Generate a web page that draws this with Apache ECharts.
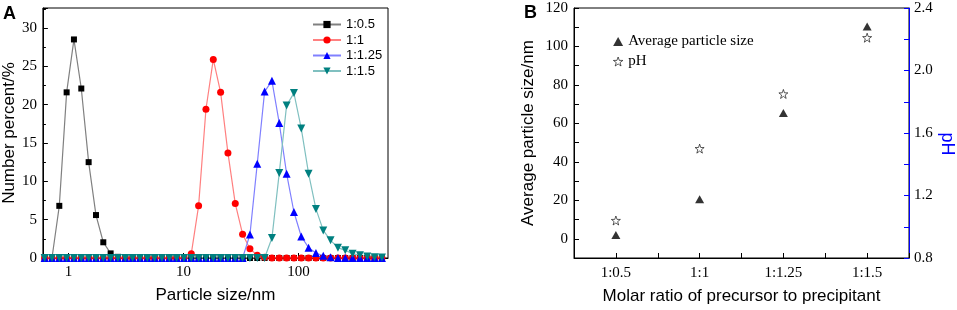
<!DOCTYPE html>
<html><head><meta charset="utf-8">
<script src="https://cdn.jsdelivr.net/npm/echarts@6/dist/echarts.min.js"></script>
<style>html,body{margin:0;padding:0;background:#fff}#c{width:957px;height:310px}</style>
</head><body><div id="c"></div>
<script>
// Panel A: particle size bins (nm) and number percent per series
const sizes = [0.6213,0.7195,0.8332,0.9649,1.117,1.294,1.499,1.736,2.010,2.328,2.696,3.122,3.615,4.187,4.849,5.615,6.503,7.531,8.721,10.10,11.70,13.54,15.69,18.17,21.04,24.36,28.21,32.67,37.84,43.82,50.75,58.77,68.06,78.82,91.28,105.7,122.4,141.8,164.2,190.1,220.2,255.0,295.3,342.0,396.1,458.7,531.2];
const s05  = [0,0,6.8,21.6,28.5,22.1,12.5,5.6,2.05,0.6,0.15,0,0,0,0,0,0,0,0,0,0,0,0,0,0,0,0,0,0,0,0,0,0,0,0,0,0,0,0,0,0,0,0,0,0,0,0];
const s1   = [0,0,0,0,0,0,0,0,0,0,0,0,0,0,0,0,0,0,0,0,0.57,6.8,19.4,25.9,21.6,13.7,7.1,3.1,1.2,0.35,0.1,0,0,0,0,0,0,0,0,0,0,0,0,0,0,0,0];
const s125 = [0,0,0,0,0,0,0,0,0,0,0,0,0,0,0,0,0,0,0,0,0,0,0,0,0,0,0,0,3.05,12.3,21.7,23.1,17.6,11.0,6.0,2.8,1.35,0.65,0.3,0.1,0,0,0,0,0,0,0];
const s15  = [0,0,0,0,0,0,0,0,0,0,0,0,0,0,0,0,0,0,0,0,0,0,0,0,0,0,0,0,0,0,0,2.6,11.1,19.9,21.5,16.9,11.0,6.4,3.6,2.3,1.35,1.0,0.57,0.35,0.2,0.1,0.05];
const seriesNamesA = ['1:0.5','1:1','1:1.25','1:1.5'];
const xTicksA = [1,10,100];

// Panel B
const ratios = ['1:0.5','1:1','1:1.25','1:1.5'];
const avgSize = [2,20.5,65.4,110.4];
const pH = [1.04,1.50,1.85,2.21];

const SANS = '"Liberation Sans", Arial, sans-serif';
const SERIF = '"Liberation Serif", "Times New Roman", serif';
const star = 'path://M0,-10L2.35,-3.24L9.51,-3.09L3.8,1.24L5.88,8.09L0,4L-5.88,8.09L-3.8,1.24L-9.51,-3.09L-2.35,-3.24Z';

const pairs = v => sizes.map((s,i)=>[s, v[i]]);
const lineCols = ['#808080','#ff8080','#8080ff','#80c0c0'];
const symCols = ['#000000','#ff0000','#0000ff','#008080'];
const symbols = ['rect','circle','triangle','path://M0,0L10,0L5,9Z'];
const symSizes = [6,7,8,8];
const valsA = [s05,s1,s125,s15];
const starStyle = {color:'#fff', borderColor:'#000', borderWidth:0.8};

const chart = echarts.init(document.getElementById('c'));
const axisLbl = {fontFamily: SERIF, fontSize: 15, color:'#000'};
chart.setOption({
  animation:false,
  graphic:[
    {type:'text', left:3, top:5, style:{text:'A', font:'bold 18px '+SANS, fill:'#000'}},
    {type:'text', left:524, top:4, style:{text:'B', font:'bold 18px '+SANS, fill:'#000'}}
  ],
  grid:[
    {left:42, top:8, width:346, height:250, show:true, borderColor:'#000', borderWidth:1, backgroundColor:'transparent'},
    {left:574, top:8, width:335, height:251, show:true, borderColor:'#000', borderWidth:1, backgroundColor:'transparent'}
  ],
  legend:[
    {data:seriesNamesA, orient:'vertical', left:312, top:18, padding:0, itemWidth:28, itemHeight:9, itemGap:2.5,
     textStyle:{fontFamily:SANS, fontSize:13, lineHeight:13, color:'#000'}},
    {data:[{name:'Average particle size', icon:'triangle'},{name:'pH', icon:star, itemStyle:starStyle}], orient:'vertical', left:613, top:34, padding:0, itemWidth:10, itemHeight:9, itemGap:5,
     textStyle:{fontFamily:SERIF, fontSize:15, lineHeight:15, color:'#000'}}
  ],
  xAxis:[
    {gridIndex:0, type:'log', logBase:10, min:0.6, max:600,
     name:'Particle size/nm', nameLocation:'middle', nameGap:29, nameTextStyle:{fontFamily:SANS, fontSize:17, color:'#000'},
     axisLine:{lineStyle:{color:'#000'}}, axisTick:{inside:true, length:5, lineStyle:{color:'#000'}},
     splitLine:{show:false},
     axisLabel:Object.assign({margin:7, showMinLabel:false, showMaxLabel:false, formatter:v=>{
        for (const t of xTicksA) if (Math.abs(v-t)/t<1e-6) return String(t); return '';}}, axisLbl)},
    {gridIndex:1, type:'value', min:0.5, max:4.5, interval:0.5,
     name:'Molar ratio of precursor to precipitant', nameLocation:'middle', nameGap:30, nameTextStyle:{fontFamily:SANS, fontSize:17, color:'#000'},
     axisLine:{onZero:false, lineStyle:{color:'#000'}}, axisTick:{inside:true, length:5, lineStyle:{color:'#000'}},
     splitLine:{show:false},
     axisLabel:Object.assign({margin:8, formatter:v=>{const r=Math.round(v); return Math.abs(v-r)<1e-6 && r>=1 && r<=ratios.length ? ratios[r-1] : '';}}, axisLbl)}
  ],
  yAxis:[
    {gridIndex:0, type:'value', min:0, max:32.6, interval:5,
     name:'Number percent/%', nameLocation:'middle', nameGap:24, nameTextStyle:{fontFamily:SANS, fontSize:17, color:'#000'},
     axisLine:{show:true, lineStyle:{color:'#000'}}, axisTick:{inside:true, length:5, lineStyle:{color:'#000'}},
     minorTick:{show:true, splitNumber:2, length:3, lineStyle:{color:'#000'}},
     splitLine:{show:false},
     axisLabel:Object.assign({margin:6, formatter:v=>(Math.abs(v/5-Math.round(v/5))<1e-6 ? String(v) : '')}, axisLbl)},
    {gridIndex:1, type:'value', min:-10, max:120, interval:10,
     name:'Average particle size/nm', nameLocation:'middle', nameGap:37, nameTextStyle:{fontFamily:SANS, fontSize:17, color:'#000'},
     axisLine:{show:true, onZero:false, lineStyle:{color:'#000'}}, axisTick:{inside:true, length:5, lineStyle:{color:'#000'}},
     splitLine:{show:false},
     axisLabel:Object.assign({margin:6, formatter:v=>(v>=0 && v%20===0 ? String(v) : '')}, axisLbl)},
    {gridIndex:1, type:'value', position:'right', min:0.8, max:2.4, interval:0.2,
     name:'pH', nameLocation:'middle', nameRotate:-90, nameGap:29, nameTextStyle:{fontFamily:SANS, fontSize:18, color:'#0000ff', padding:[0,0,0,22]},
     axisLine:{show:true, onZero:false, lineStyle:{color:'#0000ff'}}, axisTick:{inside:true, length:5, lineStyle:{color:'#0000ff'}},
     splitLine:{show:false},
     axisLabel:Object.assign({margin:5, formatter:v=>{const k=Math.round(v*10); return k%4===0 ? (k/10).toFixed(1) : '';}}, axisLbl)}
  ],
  series: seriesNamesA.map((n,i)=>({
      name:n, type:'line', xAxisIndex:0, yAxisIndex:0, data:pairs(valsA[i]),
      symbol:symbols[i], symbolSize:symSizes[i], showAllSymbol:true,
      lineStyle:{color:lineCols[i], width:1.2}, itemStyle:{color:symCols[i]}
    })).concat([
    {name:'Average particle size', type:'scatter', xAxisIndex:1, yAxisIndex:1,
     data:avgSize.map((v,i)=>[i+1,v]), symbol:'triangle', symbolSize:[9,8], itemStyle:{color:'#000'}},
    {name:'pH', type:'scatter', xAxisIndex:1, yAxisIndex:2,
     data:pH.map((v,i)=>[i+1,v]), symbol:star, symbolSize:9, itemStyle:starStyle}
  ])
});
</script></body></html>
